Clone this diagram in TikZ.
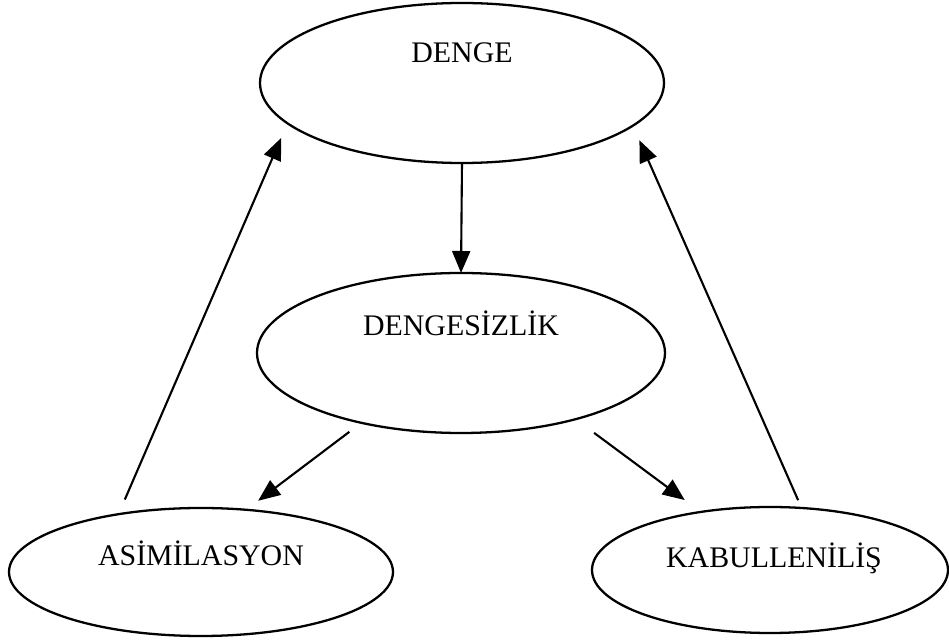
\documentclass[tikz,border=0pt]{standalone}
\usepackage{fontspec}
\setmainfont{Liberation Serif}
\usetikzlibrary{shapes.geometric,arrows.meta}

\begin{document}
\begin{tikzpicture}[
        stage/.style={ellipse, draw=black, line width=1.3pt, outer sep=0pt,
        inner sep=0pt},
        stagetext/.style={font=\fontsize{17}{20}\selectfont},
        arr/.style={-{Triangle[length=0.44cm, width=0.36cm]}, line width=1.2pt},
      ]
      \useasboundingbox (0,0) rectangle (18.98,12.84);

      % =================== STAGES ===================
      \node[stage, minimum width=8.08cm, minimum height=3.2cm,
      label={[stagetext, yshift=0.6cm]center:DENGE}] (denge) at (9.24, 11.18) {};
      \node[stage, minimum width=8.16cm, minimum height=3.2cm,
      label={[stagetext, yshift=0.6cm]center:DENGESİZLİK}] (dengesizlik) at (9.22, 5.78) {};
      \node[stage, minimum width=7.68cm, minimum height=2.56cm,
      label={[stagetext, yshift=0.38cm]center:ASİMİLASYON}] (asimilasyon) at (4.02, 1.4) {};
      \node[stage, minimum width=7.12cm, minimum height=2.52cm,
      label={[stagetext, yshift=0.24cm, xshift=0.08cm]center:KABULLENİLİŞ}] (kabul) at (15.4, 1.44) {};

      % =================== CONNECTIONS ===================
      \draw[arr] (denge.south) -- (dengesizlik.north);

      \draw[arr, shorten <=0.3cm, shorten >=0.3cm]
      (dengesizlik.215) -- (asimilasyon.54);
      \draw[arr, shorten <=0.46cm, shorten >=0.4cm]
      (dengesizlik.330) -- (kabul.140);

      \draw[arr, shorten <=0.32cm, shorten >=0.32cm]
      (asimilasyon.145.7) -- (denge.193.5);
      \draw[arr, shorten <=0.17cm, shorten >=0.32cm]
      (kabul.63.9) -- (denge.346.6);

    \end{tikzpicture}
\end{document}
